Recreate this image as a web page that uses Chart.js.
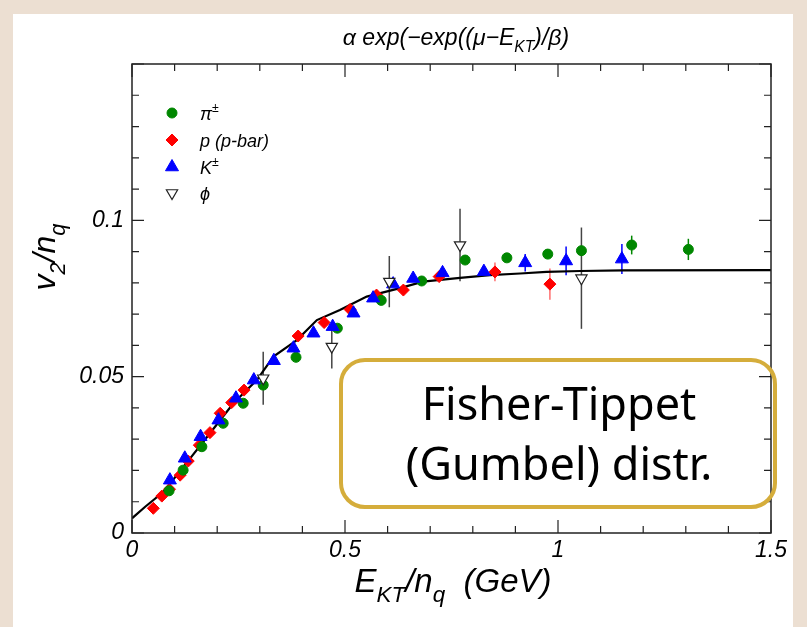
<!DOCTYPE html>
<html>
<head>
<meta charset="utf-8">
<script src="https://cdn.jsdelivr.net/npm/chart.js@4.4.0/dist/chart.umd.min.js"></script>
<style>
  html, body { margin: 0; padding: 0; background: #ecdfd2; }
  #wrap { width: 807px; height: 627px; }
</style>
</head>
<body>
<div id="wrap"><canvas id="v2chart" width="807" height="627"></canvas></div>
<script>
// pi+- (green circles)
const piX   = [0.087, 0.120, 0.164, 0.214, 0.261, 0.308, 0.385, 0.482, 0.585, 0.680, 0.782, 0.880, 0.976, 1.055, 1.173, 1.306];
const piY   = [0.0135, 0.0201, 0.0276, 0.0351, 0.0415, 0.0473, 0.0562, 0.0655, 0.0744, 0.0806, 0.0873, 0.0880, 0.0892, 0.0903, 0.0921, 0.0907];
const piErr = [0, 0, 0, 0, 0, 0, 0, 0, 0, 0, 0.0008, 0.0008, 0.0008, 0.001, 0.003, 0.0034];

// p (p-bar) (red diamonds)
const pX   = [0.050, 0.070, 0.088, 0.113, 0.132, 0.158, 0.183, 0.207, 0.234, 0.263, 0.390, 0.451, 0.512, 0.574, 0.637, 0.721, 0.852, 0.981];
const pY   = [0.0079, 0.0118, 0.0140, 0.0185, 0.0230, 0.0281, 0.0321, 0.0383, 0.0417, 0.0457, 0.0630, 0.0673, 0.0715, 0.0761, 0.0777, 0.0820, 0.0835, 0.0796];
const pErr = [0, 0, 0, 0, 0, 0, 0, 0, 0, 0, 0, 0, 0, 0, 0, 0.0008, 0.003, 0.005];

// K+- (blue triangles)
const kX   = [0.089, 0.124, 0.161, 0.203, 0.244, 0.286, 0.333, 0.379, 0.426, 0.471, 0.520, 0.566, 0.613, 0.660, 0.729, 0.826, 0.923, 1.019, 1.150];
const kY   = [0.0169, 0.0239, 0.0308, 0.0361, 0.0431, 0.0489, 0.0551, 0.0591, 0.0639, 0.0660, 0.0703, 0.0751, 0.0796, 0.0814, 0.0832, 0.0836, 0.0864, 0.0870, 0.0876];
const kErr = [0, 0, 0, 0, 0, 0, 0, 0, 0, 0, 0, 0, 0, 0, 0.0006, 0.001, 0.0028, 0.0046, 0.0048];

// phi (open down triangles)
const phiX   = [0.308, 0.469, 0.604, 0.770, 1.055];
const phiY   = [0.0495, 0.0596, 0.0804, 0.0921, 0.0815];
const phiErr = [0.0085, 0.007, 0.0082, 0.0116, 0.0162];

// Gumbel fit curve
const fitX = [0, 0.031, 0.074, 0.124, 0.183, 0.238, 0.293, 0.332, 0.387, 0.434, 0.488, 0.551, 0.629, 0.683, 0.770, 0.840, 0.911, 0.973, 1.052, 1.153, 1.5];
const fitY = [0.0047, 0.0084, 0.0132, 0.0217, 0.0319, 0.0415, 0.0489, 0.0564, 0.0617, 0.0681, 0.0713, 0.0756, 0.0783, 0.0804, 0.0816, 0.0825, 0.0830, 0.0835, 0.0838, 0.0840, 0.0841];

// axes
const xTicks = [0, 0.5, 1, 1.5];
const yTicks = [0, 0.05, 0.1];
const xMinor = 0.1, yMinor = 0.01;

const GREEN = 'rgb(0,135,0)';
const RED = '#ff0000';
const BLUE = '#0000ff';
const FONT = '"Liberation Sans", Arial, Helvetica, sans-serif';

function pts(xs, ys, es) {
    return xs.map((x, i) => ({x: x, y: ys[i], e: es ? es[i] : 0}));
}

function richWidth(ctx, parts, size) {
    let w = 0;
    parts.forEach(p => {
        ctx.font = 'italic ' + ((p.sub || p.sup) ? size * 0.68 : size) + 'px ' + FONT;
        w += ctx.measureText(p.t).width;
    });
    return w;
}
function drawRich(ctx, parts, x, y, size, align) {
    if (align === 'center') x -= richWidth(ctx, parts, size) / 2;
    ctx.textAlign = 'left';
    ctx.textBaseline = 'alphabetic';
    parts.forEach(p => {
        const s = (p.sub || p.sup) ? size * 0.68 : size;
        ctx.font = 'italic ' + s + 'px ' + FONT;
        const dy = p.sub ? size * 0.3 : (p.sup ? -size * 0.45 : 0);
        ctx.fillText(p.t, x, y + dy);
        x += ctx.measureText(p.t).width;
    });
}

// ROOT style frame, inward ticks, error bars, titles, legend, gold box
const rootStyle = {
    id: 'rootStyle',
    beforeDraw(chart) {
        const ctx = chart.ctx;
        ctx.save();
        ctx.fillStyle = '#ecdfd2';
        ctx.fillRect(0, 0, chart.width, chart.height);
        ctx.fillStyle = '#ffffff';
        ctx.fillRect(13, 14, 780, chart.height - 14);
        ctx.restore();
    },
    beforeDatasetsDraw(chart) {
        const ctx = chart.ctx;
        const xs = chart.scales.x, ys = chart.scales.y;
        ctx.save();
        ctx.lineWidth = 1.5;
        chart.data.datasets.forEach(ds => {
            if (!ds.errColor) return;
            ctx.strokeStyle = ds.errColor;
            ds.data.forEach(d => {
                if (!d.e) return;
                const px = xs.getPixelForValue(d.x);
                ctx.beginPath();
                ctx.moveTo(px, ys.getPixelForValue(d.y - d.e));
                ctx.lineTo(px, ys.getPixelForValue(d.y + d.e));
                ctx.stroke();
            });
        });
        ctx.restore();
    },
    afterDraw(chart) {
        const ctx = chart.ctx;
        const a = chart.chartArea;
        const xs = chart.scales.x, ys = chart.scales.y;
        ctx.save();

        // frame
        ctx.strokeStyle = '#222';
        ctx.lineWidth = 1.5;
        ctx.strokeRect(a.left, a.top, a.right - a.left, a.bottom - a.top);

        // ticks
        ctx.lineWidth = 1.2;
        ctx.beginPath();
        for (let i = 0; i <= 15; i++) {
            const v = i * xMinor;
            const px = xs.getPixelForValue(v);
            const len = (i % 5 === 0) ? 13 : 7;
            ctx.moveTo(px, a.bottom); ctx.lineTo(px, a.bottom - len);
            ctx.moveTo(px, a.top); ctx.lineTo(px, a.top + len);
        }
        for (let i = 0; i <= 15; i++) {
            const v = i * yMinor;
            const py = ys.getPixelForValue(v);
            const len = (i % 5 === 0) ? 12 : 7;
            ctx.moveTo(a.left, py); ctx.lineTo(a.left + len, py);
            ctx.moveTo(a.right, py); ctx.lineTo(a.right - len, py);
        }
        ctx.stroke();

        // title
        ctx.fillStyle = '#000';
        drawRich(ctx, [{t: 'α exp(−exp((μ−E'}, {t: 'KT', sub: true}, {t: ')/β)'}], 456, 45, 23, 'center');

        // x axis title
        drawRich(ctx, [{t: 'E'}, {t: 'KT', sub: true}, {t: '/n'}, {t: 'q', sub: true}, {t: '  (GeV)'}], 453, 592, 33, 'center');

        // y axis title
        ctx.save();
        ctx.translate(55, 257);
        ctx.rotate(-Math.PI / 2);
        drawRich(ctx, [{t: 'v'}, {t: '2', sub: true}, {t: '/n'}, {t: 'q', sub: true}], 0, 0, 32, 'center');
        ctx.restore();

        // legend
        const entries = [
            {ds: 0, parts: [{t: 'π'}, {t: '±', sup: true}], y: 113},
            {ds: 1, parts: [{t: 'p (p-bar)'}], y: 140},
            {ds: 2, parts: [{t: 'K'}, {t: '±', sup: true}], y: 167},
            {ds: 3, parts: [{t: 'ϕ'}], y: 193}
        ];
        entries.forEach(en => {
            const ds = chart.data.datasets[en.ds];
            ctx.fillStyle = ds.backgroundColor;
            ctx.strokeStyle = ds.borderColor;
            ctx.lineWidth = ds.borderWidth;
            Chart.helpers.drawPoint(ctx, {
                pointStyle: ds.pointStyle,
                radius: ds.pointRadius,
                rotation: ds.rotation || 0,
                borderWidth: ds.borderWidth
            }, 172, en.y);
            ctx.fillStyle = '#000';
            drawRich(ctx, en.parts, 200, en.y + 7, 18, 'left');
        });

        // gold annotation box
        ctx.strokeStyle = '#d5ad3b';
        ctx.lineWidth = 4;
        ctx.beginPath();
        ctx.roundRect(341, 360, 434, 147, 24);
        ctx.stroke();
        ctx.fillStyle = '#000';
        ctx.font = '45px "Noto Sans", "Open Sans", sans-serif';
        ctx.textAlign = 'center';
        ctx.textBaseline = 'middle';
        ctx.fillText('Fisher-Tippet', 559, 407);
        ctx.fillText('(Gumbel) distr.', 559, 467);

        ctx.restore();
    }
};

const data = {
    datasets: [
        {
            label: 'pi',
            data: pts(piX, piY, piErr),
            pointStyle: 'circle',
            pointRadius: 5,
            backgroundColor: GREEN,
            borderColor: GREEN,
            borderWidth: 1,
            errColor: GREEN,
            order: 2
        },
        {
            label: 'p',
            data: pts(pX, pY, pErr),
            pointStyle: 'rectRot',
            pointRadius: 6,
            backgroundColor: RED,
            borderColor: RED,
            borderWidth: 1,
            errColor: 'rgba(255,60,60,0.75)',
            order: 3
        },
        {
            label: 'K',
            data: pts(kX, kY, kErr),
            pointStyle: 'triangle',
            pointRadius: 7.5,
            backgroundColor: BLUE,
            borderColor: BLUE,
            borderWidth: 1,
            errColor: BLUE,
            order: 1
        },
        {
            label: 'phi',
            data: pts(phiX, phiY, phiErr),
            pointStyle: 'triangle',
            pointRadius: 6.5,
            rotation: 180,
            backgroundColor: '#ffffff',
            borderColor: '#222',
            borderWidth: 1.2,
            errColor: '#444',
            order: 0
        },
        {
            label: 'fit',
            type: 'line',
            data: pts(fitX, fitY),
            borderColor: '#000',
            borderWidth: 2.2,
            pointRadius: 0,
            tension: 0,
            fill: false,
            order: 4
        }
    ]
};

const config = {
    type: 'scatter',
    data: data,
    options: {
        responsive: false,
        animation: false,
        layout: {
            padding: {left: 0, top: 64, right: 36, bottom: 0}
        },
        plugins: {
            legend: {display: false},
            tooltip: {enabled: false},
            title: {display: false}
        },
        scales: {
            x: {
                type: 'linear',
                min: 0,
                max: 1.5,
                afterFit: s => { s.height = 94; },
                afterBuildTicks: s => { s.ticks = xTicks.map(v => ({value: v})); },
                grid: {display: false, drawTicks: false},
                border: {display: false},
                ticks: {
                    padding: 4,
                    maxRotation: 0,
                    autoSkip: false,
                    color: '#000',
                    font: {family: FONT, size: 23, style: 'italic'},
                    callback: v => String(Number(v.toFixed(2)))
                }
            },
            y: {
                type: 'linear',
                min: 0,
                max: 0.15,
                afterFit: s => { s.width = 132; },
                afterBuildTicks: s => { s.ticks = yTicks.map(v => ({value: v})); },
                grid: {display: false, drawTicks: false},
                border: {display: false},
                ticks: {
                    padding: 8,
                    autoSkip: false,
                    color: '#000',
                    font: {family: FONT, size: 23, style: 'italic'},
                    callback: v => String(Number(v.toFixed(2)))
                }
            }
        }
    },
    plugins: [rootStyle]
};

new Chart(document.getElementById('v2chart').getContext('2d'), config);
</script>
</body>
</html>
